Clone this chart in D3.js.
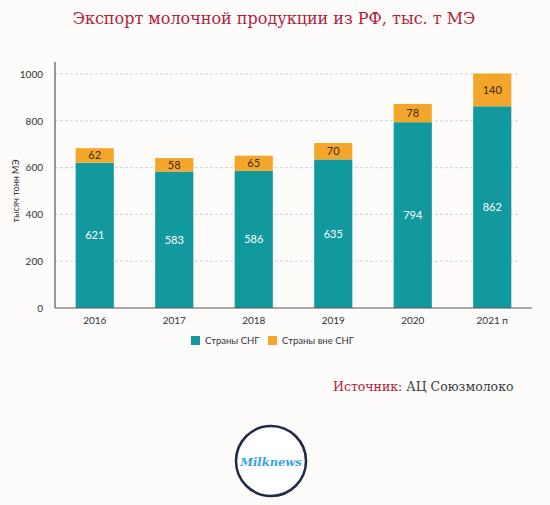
<!DOCTYPE html>
<html>
<head>
<meta charset="utf-8">
<script src="https://cdn.jsdelivr.net/npm/d3@7"></script>
<style>
	body { margin: 0; background: #fdfcfb; }
	svg { display: block; }
</style>
</head>
<body>
<div id="chart"></div>
<script>
// data
const years = ['2016', '2017', '2018', '2019', '2020', '2021 п'];
const cisValues = [621, 583, 586, 635, 794, 862];
const nonCisValues = [62, 58, 65, 70, 78, 140];
const yTicks = [0, 200, 400, 600, 800, 1000];
const seriesNames = ['Страны СНГ', 'Страны вне СНГ'];
const seriesColors = ['#12999e', '#f4a62a'];

const width = 550, height = 505;
const margin = { top: 74, right: 18, bottom: 197, left: 55 };

const svg = d3.select('#chart').append('svg')
	.attr('width', width)
	.attr('height', height);

svg.append('rect').attr('width', width).attr('height', height).attr('fill', '#fdfcfb');

// title
svg.append('text')
	.attr('x', 274)
	.attr('y', 24)
	.attr('text-anchor', 'middle')
	.style('font-family', 'DejaVu Serif, serif')
	.style('font-size', '16px')
	.attr('fill', '#b3203c')
	.text('Экспорт молочной продукции из РФ, тыс. т МЭ');

const table = years.map((y, i) => ({ year: y, cis: cisValues[i], non: nonCisValues[i] }));
const stacked = d3.stack().keys(['cis', 'non'])(table);

const x = d3.scaleBand()
	.domain(years)
	.range([margin.left, 532])
	.paddingInner(0.52)
	.paddingOuter(0.26);

const y = d3.scaleLinear()
	.domain([0, 1000])
	.range([height - margin.bottom, margin.top]);

// grid
svg.append('g')
	.selectAll('line')
	.data(yTicks.filter(d => d > 0))
	.join('line')
	.attr('x1', margin.left)
	.attr('x2', 518)
	.attr('y1', d => y(d))
	.attr('y2', d => y(d))
	.attr('stroke', '#c8c8c8')
	.attr('stroke-width', 0.8)
	.attr('stroke-dasharray', '3,2');

// bars
svg.append('g')
	.selectAll('g')
	.data(stacked)
	.join('g')
	.attr('fill', (d, i) => seriesColors[i])
	.selectAll('rect')
	.data(d => d)
	.join('rect')
	.attr('x', d => x(d.data.year))
	.attr('width', x.bandwidth())
	.attr('y', d => y(d[1]))
	.attr('height', d => y(d[0]) - y(d[1]));

// value labels
svg.append('g')
	.selectAll('text')
	.data(table)
	.join('text')
	.attr('x', d => x(d.year) + x.bandwidth() / 2)
	.attr('y', d => y(d.cis / 2) + 4)
	.attr('text-anchor', 'middle')
	.style('font-family', 'Lato, sans-serif')
	.style('font-size', '11px')
	.attr('fill', '#ffffff')
	.text(d => d.cis);

svg.append('g')
	.selectAll('text')
	.data(table)
	.join('text')
	.attr('x', d => x(d.year) + x.bandwidth() / 2)
	.attr('y', d => y(d.cis + d.non / 2) + 4)
	.attr('text-anchor', 'middle')
	.style('font-family', 'Lato, sans-serif')
	.style('font-size', '11px')
	.attr('fill', '#3a2a10')
	.text(d => d.non);

// axes
const yAxis = d3.axisLeft(y).tickValues(yTicks).tickFormat(d3.format('d')).tickSize(0).tickPadding(12);
const yAxisGroup = svg.append('g')
	.attr('transform', `translate(${margin.left},0)`)
	.call(yAxis);
yAxisGroup.select('.domain').attr('stroke', '#555').attr('stroke-width', 1.2)
	.attr('d', `M0,${y(0)}V${y(1000) - 12}`);
yAxisGroup.selectAll('text')
	.style('font-family', 'Lato, sans-serif')
	.style('font-size', '10px')
	.attr('fill', '#333');

const xAxis = d3.axisBottom(x).tickSize(0).tickPadding(9);
const xAxisGroup = svg.append('g')
	.attr('transform', `translate(0,${y(0)})`)
	.call(xAxis);
xAxisGroup.select('.domain').attr('stroke', '#555').attr('stroke-width', 1.2)
	.attr('d', `M${margin.left},0H532`);
xAxisGroup.selectAll('text')
	.style('font-family', 'Lato, sans-serif')
	.style('font-size', '10px')
	.attr('fill', '#333');

// y axis title
svg.append('text')
	.attr('transform', `translate(19,${(y(0) + y(1000)) / 2}) rotate(-90)`)
	.attr('text-anchor', 'middle')
	.style('font-family', 'Lato, sans-serif')
	.style('font-size', '9px')
	.attr('fill', '#333')
	.text('тысяч тонн МЭ');

// legend
const legendX = [191, 268];
const legend = svg.append('g')
	.selectAll('g')
	.data(seriesNames)
	.join('g')
	.attr('transform', (d, i) => `translate(${legendX[i]},336)`);
legend.append('rect')
	.attr('width', 9)
	.attr('height', 9)
	.attr('fill', (d, i) => seriesColors[i]);
legend.append('text')
	.attr('x', 14)
	.attr('y', 8)
	.style('font-family', 'Lato, sans-serif')
	.style('font-size', '9.5px')
	.attr('fill', '#333')
	.text(d => d);

// source
const src = svg.append('text')
	.attr('x', 333)
	.attr('y', 391)
	.style('font-family', 'DejaVu Serif, serif')
	.style('font-size', '12.5px');
src.append('tspan').attr('fill', '#b3203c').text('Источник: ');
src.append('tspan').attr('fill', '#3a3a3a').text('АЦ Союзмолоко');

// logo
svg.append('circle')
	.attr('cx', 271)
	.attr('cy', 461)
	.attr('r', 35)
	.attr('fill', '#ffffff')
	.attr('stroke', '#1f2b45')
	.attr('stroke-width', 2.5);
svg.append('text')
	.attr('x', 271)
	.attr('y', 466)
	.attr('text-anchor', 'middle')
	.style('font-family', 'DejaVu Serif, serif')
	.style('font-style', 'italic')
	.style('font-weight', 'bold')
	.style('font-size', '11.5px')
	.attr('fill', '#3aa2dc')
	.text('Milknews');
</script>
</body>
</html>
